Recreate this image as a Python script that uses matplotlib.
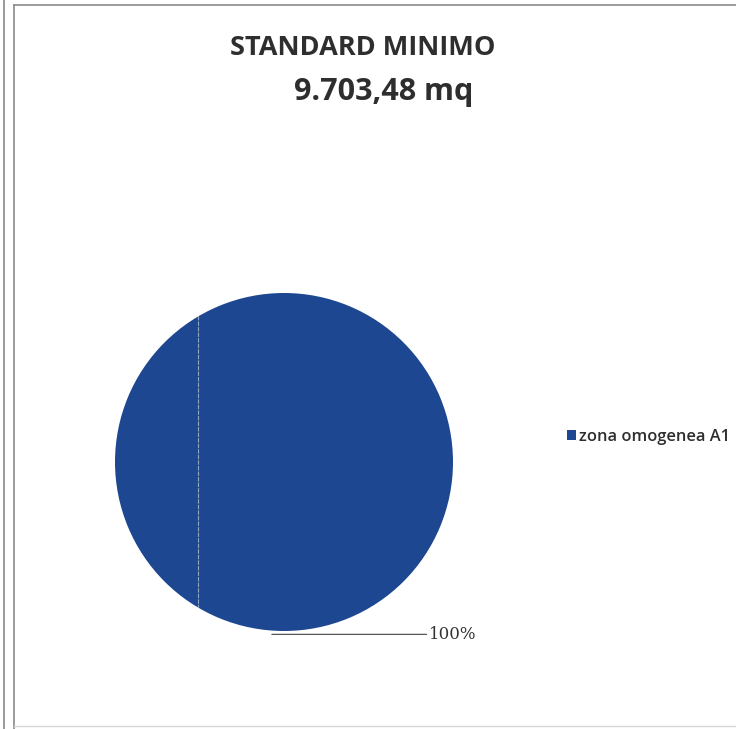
import matplotlib
matplotlib.use("Agg")
import matplotlib.pyplot as plt
from matplotlib.lines import Line2D

# chart data
categories = ["zona omogenea A1"]
values = [9703.48]
title_lines = ["STANDARD MINIMO", "9.703,48 mq"]
slice_color = "#1d4791"

W, H = 736, 729
fig = plt.figure(figsize=(W / 100, H / 100), dpi=100)
fig.patch.set_facecolor("white")

def px(x, y):
    # pixel (from top-left) -> figure fraction
    return x / W, 1 - y / H

# scanned frame lines
frame_col = "#8a8a8a"
fig.add_artist(Line2D([4 / W, 4 / W], [0, 1], color=frame_col, lw=1.2))
fig.add_artist(Line2D([14 / W, 14 / W], [0, 1 - 5 / H], color=frame_col, lw=1.2))
fig.add_artist(Line2D([14 / W, 1], [1 - 5 / H, 1 - 5 / H], color=frame_col, lw=1.2))
fig.add_artist(Line2D([14 / W, 1], [1 - 726 / H, 1 - 726 / H], color="#d8d8d8", lw=1.0))

# title
fig.text(*px(363, 48), title_lines[0], ha="center", va="center",
         fontsize=19.5, fontweight="bold", family="Open Sans", color="#2e2e2e")
fig.text(*px(384, 92), title_lines[1], ha="center", va="center",
         fontsize=22, fontweight="bold", family="Open Sans", color="#2e2e2e")

# pie
cx, cy, r = 284, 462, 169
ax = fig.add_axes([(cx - r) / W, (H - cy - r) / H, 2 * r / W, 2 * r / H])
wedges, _ = ax.pie(values, colors=[slice_color], startangle=90, radius=1,
                   wedgeprops=dict(linewidth=0))
ax.set_xlim(-1, 1)
ax.set_ylim(-1, 1)
ax.set_aspect("equal")
ax.axis("off")

# faint scan streak across the slice
streak = ax.axvline(-0.51, color="#c9cfd8", lw=0.8, alpha=0.7, ls=(0, (4, 1)))
streak.set_clip_path(wedges[0])

# data label with leader line
total = sum(values)
pct = f"{values[0] / total * 100:.0f}%"
ax.annotate(pct, xy=(-0.08, -1.02), xytext=(0.86, -1.02),
            ha="left", va="center", fontsize=12, family="DejaVu Serif",
            color="#333333", annotation_clip=False,
            arrowprops=dict(arrowstyle="-", color="#555555", lw=0.9,
                            shrinkA=0, shrinkB=1))

# legend
handles = [plt.Rectangle((0, 0), 1, 1, facecolor=slice_color)]
fig.legend(handles, categories, loc="center left",
           bbox_to_anchor=px(552, 437), frameon=False, borderaxespad=0.5,
           handlelength=0.55, handleheight=0.55, handletextpad=0.2,
           prop=dict(family="Open Sans", size=11.8, weight=600),
           labelcolor="#2e2e2e")

fig.savefig("out.png", dpi=100, facecolor="white")
